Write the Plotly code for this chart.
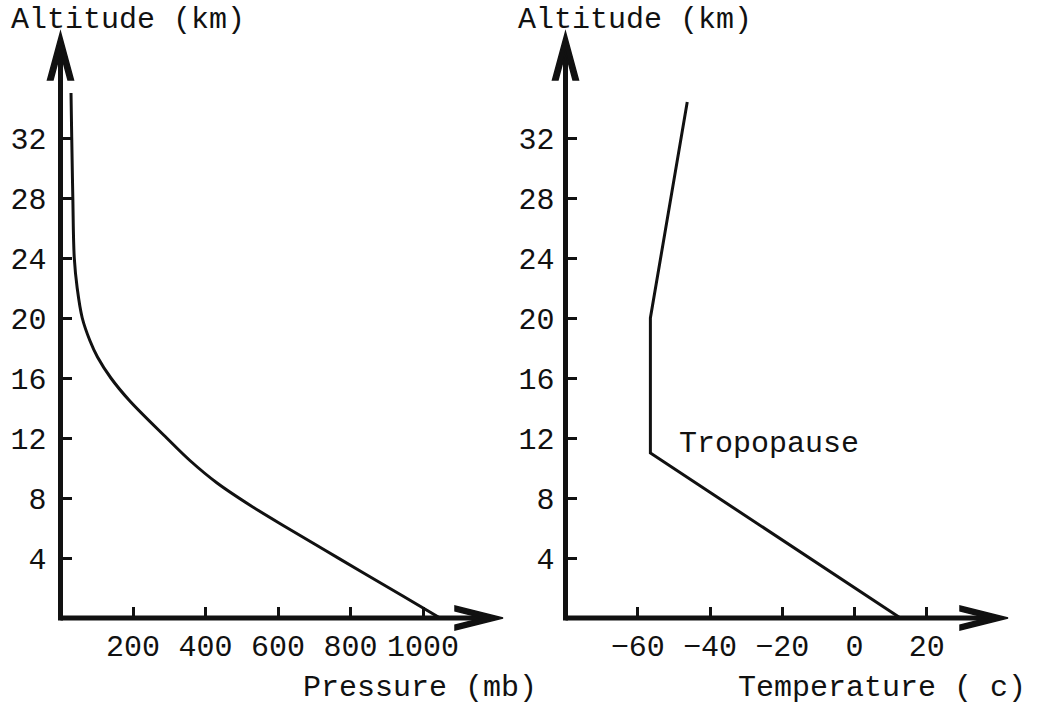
import plotly.graph_objects as go

# ---------------- data ----------------
pressure_alt_km = [0, 1.5, 3, 4.5, 6, 7.5, 9, 10.5, 12, 14.5, 16, 17.4, 18.5, 20, 22, 24, 28, 32, 35]
pressure_mb = [1047, 942, 836, 731, 626, 524, 432, 357, 293, 190, 139, 102, 81, 60, 46, 38, 34, 31, 29]

temp_alt_km = [0, 11, 20, 34.4]
temp_c = [12.7, -56.5, -56.5, -46.3]

alt_ticks = [4, 8, 12, 16, 20, 24, 28, 32]
pressure_ticks = [200, 400, 600, 800, 1000]
temp_ticks = [-60, -40, -20, 0, 20]

# ---------------- layout geometry (pixels) ----------------
W, H = 1045, 711
FONT = "Liberation Mono"
INK = "#111111"

L_X0, L_X1 = 60.5, 503.0      # left panel: axis origin / arrow tip
R_X0, R_X1 = 565.5, 1008.0    # right panel
Y0, Y1 = 618.0, 32.0          # bottom axis / arrow tip

PX_PER_MB = 0.3625
PX_PER_C = 3.6125
PX_PER_KM = 15.0

def fx(px):
    return px / W

def fy(py):
    return 1 - py / H

p_max = (L_X1 - L_X0) / PX_PER_MB
t_min = -80
t_max = t_min + (R_X1 - R_X0) / PX_PER_C
alt_max = (Y0 - Y1) / PX_PER_KM

fig = go.Figure()
fig.add_trace(go.Scatter(x=pressure_mb, y=pressure_alt_km, mode="lines",
                         line=dict(color=INK, width=3, shape="spline", smoothing=1.0),
                         xaxis="x", yaxis="y", showlegend=False, hoverinfo="skip"))
fig.add_trace(go.Scatter(x=temp_c, y=temp_alt_km, mode="lines",
                         line=dict(color=INK, width=3),
                         xaxis="x2", yaxis="y2", showlegend=False, hoverinfo="skip"))

tickfont = dict(family=FONT, size=30, color=INK)
axis_common = dict(showgrid=False, zeroline=False, showline=False,
                   ticks="inside", ticklen=11, tickwidth=2.5, tickcolor=INK,
                   tickfont=tickfont, fixedrange=True)

fig.update_layout(
    width=W, height=H,
    margin=dict(l=0, r=0, t=0, b=0),
    paper_bgcolor="white", plot_bgcolor="white",
    xaxis=dict(domain=[fx(L_X0), fx(L_X1)], range=[0, p_max], anchor="y",
               tickvals=pressure_ticks, ticklabelstandoff=7, **axis_common),
    yaxis=dict(domain=[fy(Y0), fy(Y1)], range=[0, alt_max], anchor="x",
               tickvals=alt_ticks, ticklabelstandoff=13, **axis_common),
    xaxis2=dict(domain=[fx(R_X0), fx(R_X1)], range=[t_min, t_max], anchor="y2",
                tickvals=temp_ticks, ticklabelstandoff=7, **axis_common),
    yaxis2=dict(domain=[fy(Y0), fy(Y1)], range=[0, alt_max], anchor="x2",
                tickvals=alt_ticks, ticklabelstandoff=10, **axis_common),
)

shapes = []
for x0, x1 in [(L_X0, L_X1), (R_X0, R_X1)]:
    # axis shafts
    shapes.append(dict(type="line", xref="paper", yref="paper",
                       x0=fx(x0), x1=fx(x1 - 20), y0=fy(Y0), y1=fy(Y0),
                       line=dict(color=INK, width=5)))
    shapes.append(dict(type="line", xref="paper", yref="paper",
                       x0=fx(x0), x1=fx(x0), y0=fy(Y0 + 2.5), y1=fy(Y1 + 20),
                       line=dict(color=INK, width=5)))
    # arrow heads (pixel-sized paths anchored at the tips)
    shapes.append(dict(type="path", xref="paper", yref="paper",
                       xsizemode="pixel", ysizemode="pixel",
                       xanchor=fx(x0), yanchor=fy(Y1),
                       path="M 0 0 L -13 -48 L -7.5 -48 L 0 -20 L 7.5 -48 L 13 -48 Z",
                       fillcolor=INK, line=dict(color=INK, width=1.5)))
    shapes.append(dict(type="path", xref="paper", yref="paper",
                       xsizemode="pixel", ysizemode="pixel",
                       xanchor=fx(x1), yanchor=fy(Y0),
                       path="M 0 0 L -48 12 L -48 7 L -20 0 L -48 -7 L -48 -12 Z",
                       fillcolor=INK, line=dict(color=INK, width=1.5)))
fig.update_layout(shapes=shapes)

labfont = dict(family=FONT, size=30, color=INK)
annotations = [
    dict(text="Altitude (km)", x=fx(9), y=fy(20), xanchor="left", yanchor="middle"),
    dict(text="Altitude (km)", x=fx(516), y=fy(20), xanchor="left", yanchor="middle"),
    dict(text="Pressure (mb)", x=fx(301), y=fy(688), xanchor="left", yanchor="middle"),
    dict(text="Temperature ( c)", x=fx(736), y=fy(688), xanchor="left", yanchor="middle"),
]
anns = []
for a in annotations:
    a.update(xref="paper", yref="paper", showarrow=False, font=labfont)
    anns.append(a)
anns.append(dict(text="Tropopause", xref="x2", yref="y2", x=-49, y=11.6,
                 xanchor="left", yanchor="middle", showarrow=False, font=labfont))
fig.update_layout(annotations=anns)

fig.write_html("out.html")
